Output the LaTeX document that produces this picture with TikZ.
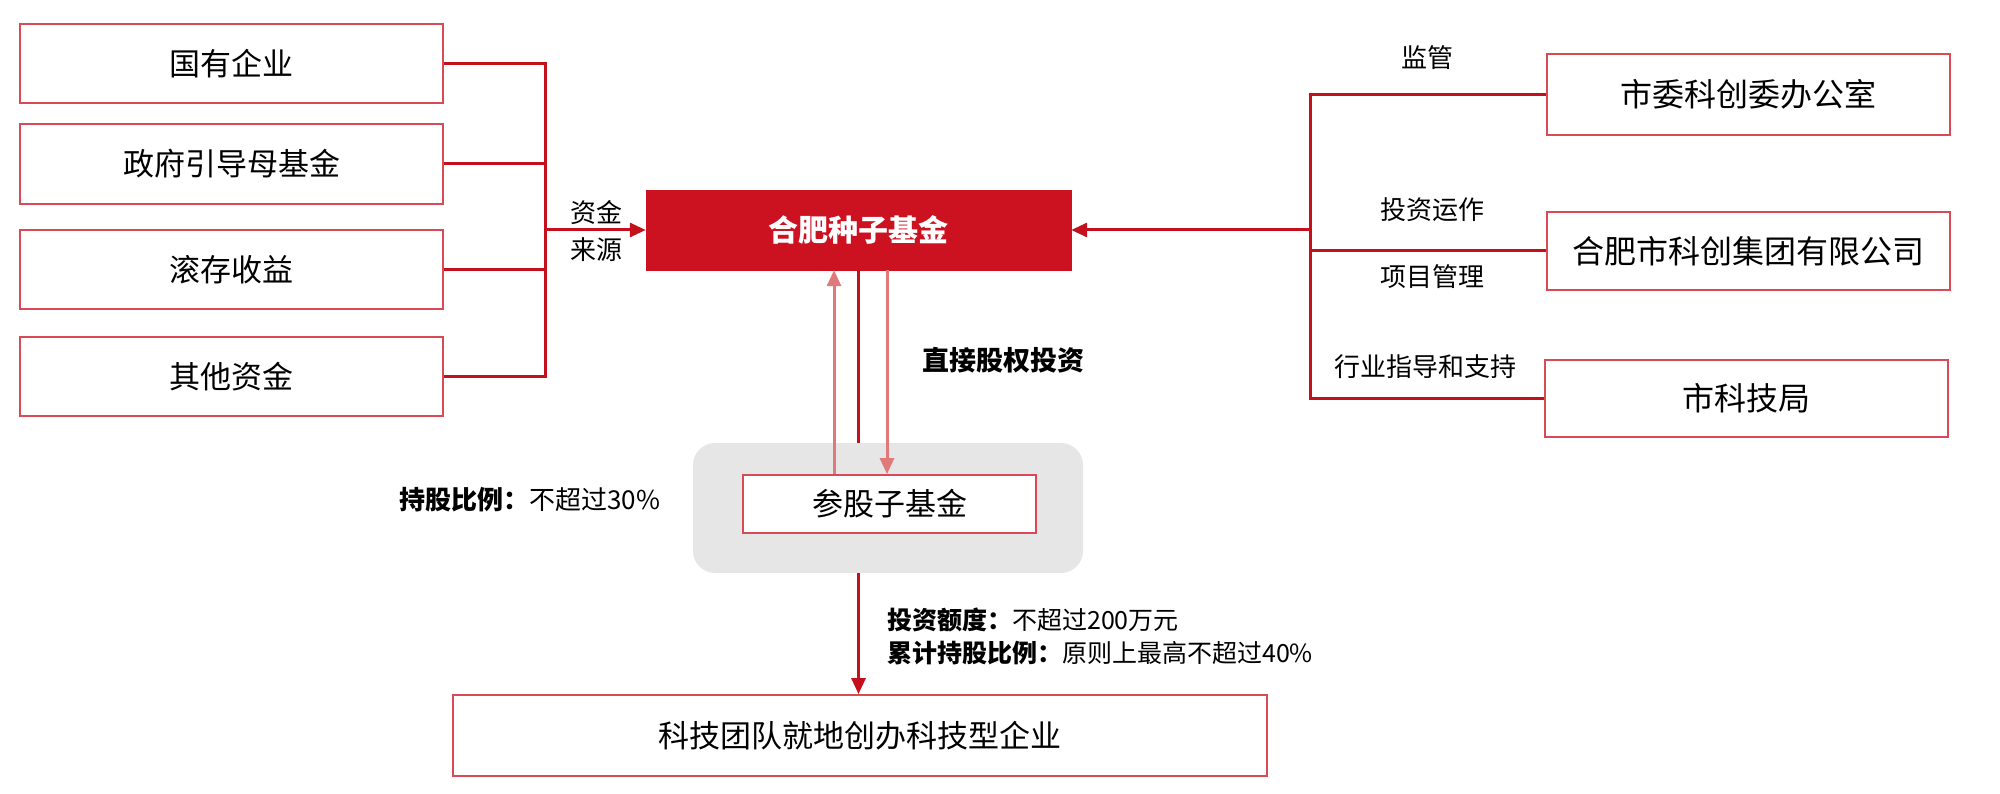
\documentclass[tikz,border=0pt]{standalone}
\usepackage{fontspec}
\setmainfont{Noto Sans CJK SC}
\usetikzlibrary{arrows.meta,calc}
\definecolor{boxred}{HTML}{D84A55}
\definecolor{linered}{HTML}{C4101C}
\definecolor{fundred}{HTML}{CC1120}
\definecolor{lightred}{HTML}{E07A7A}
\definecolor{graybg}{HTML}{E6E6E6}
\tikzset{
  box/.style={draw=boxred, line width=1.8pt, fill=white, rectangle, inner sep=0pt, font=\fontsize{31}{34}\selectfont},
  conn/.style={draw=linered, line width=3pt},
  connarrow/.style={conn, -{Triangle[length=16pt,width=14pt]}},
  lightarrow/.style={draw=lightred, line width=3pt, -{Triangle[length=16pt,width=14pt]}},
  lbl/.style={font=\fontsize{26}{37}\selectfont, inner sep=0pt},
  blbl/.style={font=\fontsize{27}{30}\selectfont\bfseries, inner sep=0pt},
}
\begin{document}
\begin{tikzpicture}[x=1pt,y=-1pt]
\useasboundingbox (0,0) rectangle (2000,794);
% left boxes
\node[box, minimum width=423, minimum height=79] (L1) at (231.5,63.5) {国有企业};
\node[box, minimum width=423, minimum height=80] (L2) at (231.5,164) {政府引导母基金};
\node[box, minimum width=423, minimum height=79] (L3) at (231.5,269.5) {滚存收益};
\node[box, minimum width=423, minimum height=79] (L4) at (231.5,376.5) {其他资金};
% fund
\node[rectangle, fill=fundred, draw=fundred, minimum width=425, minimum height=80, text=white, font=\fontsize{30}{34}\selectfont\bfseries] (fund) at (858.5,230) {合肥种子基金};
% gray highlight and sub fund
\node[rectangle, rounded corners=22pt, fill=graybg, minimum width=390, minimum height=130] (gray) at (888,508) {};
\node[box, minimum width=293, minimum height=58] (sub) at (889.5,504) {参股子基金};
% bottom
\node[box, minimum width=814, minimum height=81] (bot) at (860,735.5) {科技团队就地创办科技型企业};
% right boxes
\node[box, minimum width=403, minimum height=81, font=\fontsize{32}{34}\selectfont] (R1) at (1748.5,94.5) {市委科创委办公室};
\node[box, minimum width=403, minimum height=78, font=\fontsize{32}{34}\selectfont] (R2) at (1748.5,251) {合肥市科创集团有限公司};
\node[box, minimum width=403, minimum height=77, font=\fontsize{32}{34}\selectfont] (R3) at (1746.5,398.5) {市科技局};
% left bus
\coordinate (lbus) at (545,230);
\draw[conn] (L1.east) -| (lbus);
\draw[conn] (L4.east) -| (lbus);
\draw[conn] (L2.east) -- (L2.east -| lbus);
\draw[conn] (L3.east) -- (L3.east -| lbus);
\draw[connarrow] (lbus) -- (fund.west);
\node[lbl, align=center] (src) at (596,231) {资金\\来源};
% right bus
\coordinate (rbus) at (1310,230);
\draw[conn] (R1.west) -| (rbus);
\draw[conn] (R3.west) -| (rbus);
\draw[conn] (R2.west) -- (R2.west -| rbus);
\draw[connarrow] (rbus) -- (fund.east);
\node[lbl] (t1) at (1427,58) {监管};
\node[lbl] (t2) at (1432,210) {投资运作};
\node[lbl] (t3) at (1432,277) {项目管理};
\node[lbl] (t4) at (1425,367) {行业指导和支持};
% vertical connections
\draw[lightarrow] ([xshift=-55.5pt]sub.north) -- ([xshift=-55.5pt]sub.north |- fund.south);
\draw[lightarrow] ([xshift=-2.5pt]sub.north |- fund.south) -- ([xshift=-2.5pt]sub.north);
\draw[conn] (fund.south) -- (fund.south |- gray.north);
\draw[connarrow] (fund.south |- gray.south) -- (fund.south |- bot.north);
\node[blbl] (direct) at (1003,360) {直接股权投资};
\node[lbl, anchor=west] (hold) at (399,500) {\bfseries 持股比例：\mdseries 不超过30\%};
\node[lbl, anchor=west, font=\fontsize{25}{30}\selectfont] (amt) at (887,620) {\bfseries 投资额度：\mdseries 不超过200万元};
\node[lbl, anchor=west, font=\fontsize{25}{30}\selectfont] (cum) at (887,653) {\bfseries 累计持股比例：\mdseries 原则上最高不超过40\%};
\end{tikzpicture}
\end{document}
